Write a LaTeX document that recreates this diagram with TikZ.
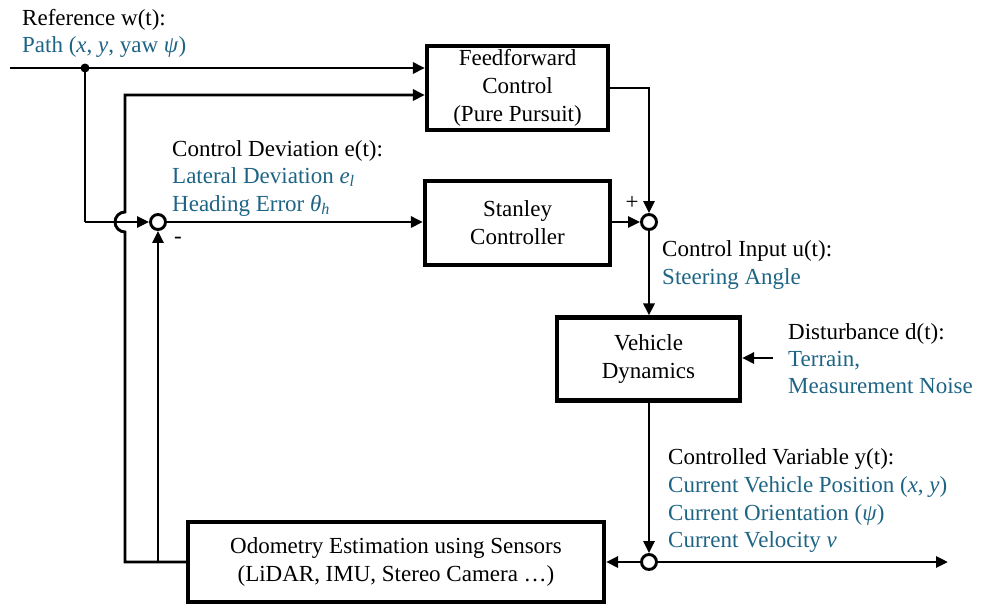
\documentclass[tikz,border=0pt]{standalone}
\usepackage{fontspec}
\setmainfont{Liberation Serif}
\usetikzlibrary{arrows.meta}
\definecolor{lblue}{RGB}{30,100,133}
\begin{document}
\begin{tikzpicture}[x=1pt,y=-1pt,
  txt/.style={font=\fontsize{23}{28}\selectfont},
  blk/.style={draw,line width=4.2pt,align=center,inner sep=0pt,font=\fontsize{23}{28}\selectfont},
  lbl/.style={anchor=base west,inner sep=0pt,font=\fontsize{23}{28}\selectfont},
  bl/.style={lbl,text=lblue},
  con/.style={line width=2.9pt},
  arr/.style={con,-{Triangle[length=12pt,width=11pt]}},
  sumc/.style={circle,draw,line width=2.9pt,minimum size=15pt,inner sep=0pt,fill=white}]
\useasboundingbox (0,0) rectangle (981,606);
% blocks
\node[blk,minimum width=181pt,minimum height=84pt] (ff) at (517.5,88) {Feedforward\\Control\\(Pure Pursuit)};
\node[blk,minimum width=185pt,minimum height=84pt] (st) at (517.5,223) {Stanley\\Controller};
\node[blk,minimum width=183pt,minimum height=83pt] (vd) at (648.5,359) {Vehicle\\Dynamics};
\node[blk,minimum width=416pt,minimum height=80pt] (od) at (396,562) {Odometry Estimation using Sensors\\(LiDAR, IMU, Stereo Camera \ldots)};
% summing junctions
\node[sumc] (s1) at (158,222) {};
\node[sumc] (s2) at (649,222) {};
\node[sumc] (s3) at (649,562) {};
% coordinates
\coordinate (in) at (10,68);
\coordinate (j) at (85,68);
\coordinate (jd) at (85,222);
\coordinate (fb) at (125,562);
\coordinate (fbt) at (125,95);
\coordinate (hopb) at (125,232);
\coordinate (b2) at (158,562);
\coordinate (ffc) at (649,88);
\coordinate (dist) at (773,358);
\coordinate (out) at (948,562);
% reference
\draw[arr] (in) -- (in -| ff.west);
\fill (j) circle (4.5pt);
\draw[con] (j) -- (jd);
\draw[arr] (jd) -- (s1);
% feedback from odometry
\draw[arr] (od.west |- fb) -- (fb) -- (hopb) arc[start angle=270,end angle=90,radius=10pt] -- (fbt) -- (fbt -| ff.west);
\draw[arr] (b2) -- (s1);
% forward path
\draw[arr] (s1) -- (s1 -| st.west);
\draw[arr] (st.east |- s2) -- (s2);
\draw[arr] (ff.east |- ffc) -- (ffc) -- (s2);
\draw[arr] (s2) -- (s2 |- vd.north);
\draw[arr] (dist) -- (dist -| vd.east);
\draw[arr] (s3 |- vd.south) -- (s3);
\draw[arr] (s3) -- (out);
\draw[arr] (s3) -- (s3 -| od.east);
% signs
\node[txt,inner sep=0pt] (minus) at (178,240) {-};
\node[txt,inner sep=0pt] (plus) at (632,203) {+};
% labels
\node[lbl] (lref1) at (22,25) {Reference w(t):};
\node[bl] (lref2) at (22,52) {Path (\textit{x}, \textit{y}, yaw \textit{ψ})};
\node[lbl] (ldev1) at (172,156) {Control Deviation e(t):};
\node[bl] (ldev2) at (172,183) {Lateral Deviation \textit{e}\textsubscript{\textit{l}}};
\node[bl] (ldev3) at (172,211) {Heading Error \textit{θ}\textsubscript{\textit{h}}};
\node[lbl] (lin1) at (662,256) {Control Input u(t):};
\node[bl] (lin2) at (662,284) {Steering Angle};
\node[lbl] (ldis1) at (788,339) {Disturbance d(t):};
\node[bl] (ldis2) at (788,366) {Terrain,};
\node[bl] (ldis3) at (788,393) {Measurement Noise};
\node[lbl] (lout1) at (668,464) {Controlled Variable y(t):};
\node[bl] (lout2) at (668,492) {Current Vehicle Position (\textit{x}, \textit{y})};
\node[bl] (lout3) at (668,520) {Current Orientation (\textit{ψ})};
\node[bl] (lout4) at (668,547) {Current Velocity \textit{v}};
\end{tikzpicture}
\end{document}
